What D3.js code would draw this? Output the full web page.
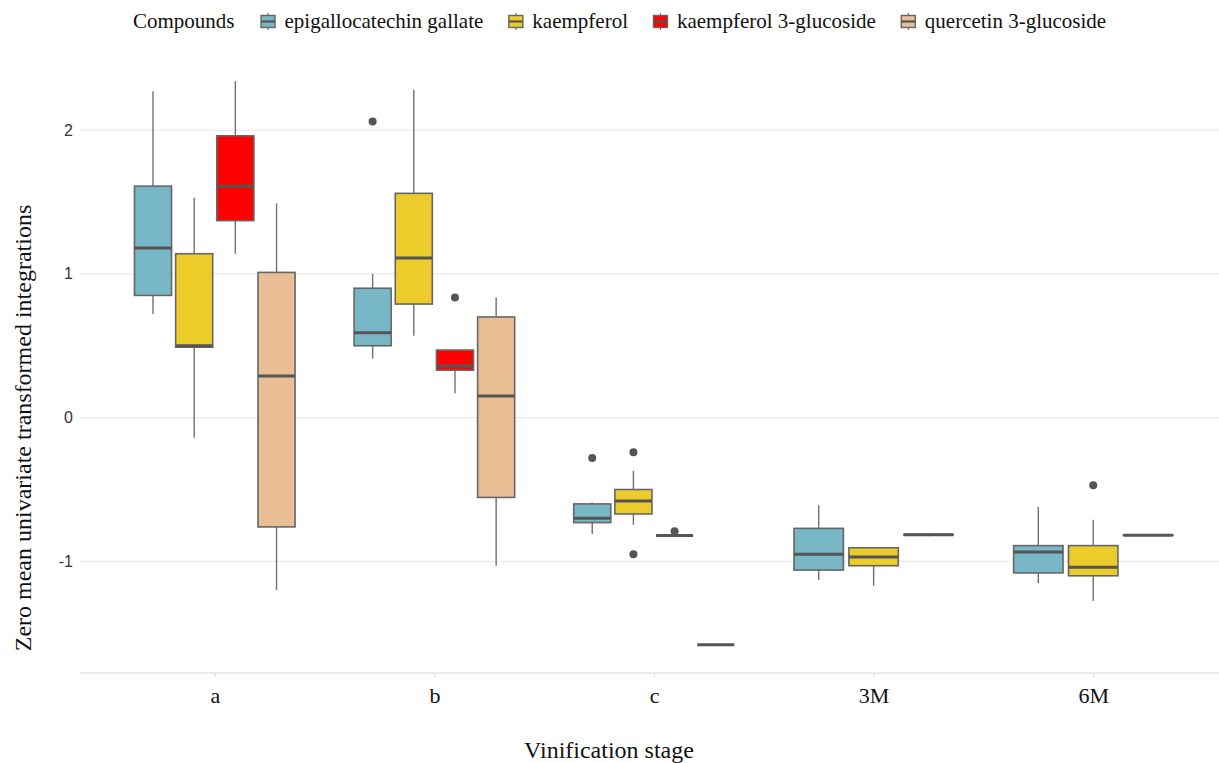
<!DOCTYPE html>
<html>
<head>
<meta charset="utf-8">
<script src="https://cdn.jsdelivr.net/npm/d3@7"></script>
<style>
  html, body { margin: 0; padding: 0; background: #fff; }
  svg { display: block; }
</style>
</head>
<body>
<svg id="chart" width="1219" height="763"></svg>
<script>
// Vinification stages on the x axis
const stages = ["a", "b", "c", "3M", "6M"];

// Compounds and their fill colours
const compounds = ["epigallocatechin gallate", "kaempferol", "kaempferol 3-glucoside", "quercetin 3-glucoside"];
const compoundColors = ["#78B7C5", "#EBCC2A", "#FF0000", "#E9BE94"];

// Box statistics per stage: [lower whisker, Q1, median, Q3, upper whisker]; null = not measured
const egcgStats = [
  [0.72, 0.85, 1.18, 1.61, 2.27],
  [0.41, 0.50, 0.59, 0.90, 1.00],
  [-0.81, -0.73, -0.70, -0.60, -0.59],
  [-1.13, -1.06, -0.95, -0.77, -0.61],
  [-1.15, -1.08, -0.935, -0.89, -0.62]
];
const kaempferolStats = [
  [-0.14, 0.49, 0.50, 1.14, 1.53],
  [0.57, 0.79, 1.11, 1.56, 2.28],
  [-0.745, -0.67, -0.58, -0.50, -0.37],
  [-1.17, -1.03, -0.97, -0.905, -0.90],
  [-1.275, -1.10, -1.04, -0.89, -0.71]
];
const kaempferol3gStats = [
  [1.14, 1.37, 1.61, 1.96, 2.34],
  [0.17, 0.33, 0.36, 0.47, 0.47],
  [-0.82, -0.82, -0.82, -0.82, -0.82],
  [-0.825, -0.815, -0.815, -0.812, -0.805],
  [-0.825, -0.818, -0.818, -0.815, -0.81]
];
const quercetin3gStats = [
  [-1.20, -0.76, 0.29, 1.01, 1.49],
  [-1.03, -0.555, 0.15, 0.70, 0.835],
  [-1.58, -1.58, -1.58, -1.58, -1.58],
  null,
  null
];

// Outlying observations per stage
const egcgOutliers = [[], [2.06], [-0.28], [], []];
const kaempferolOutliers = [[], [], [-0.24, -0.95], [], [-0.47]];
const kaempferol3gOutliers = [[], [0.835], [-0.79], [], []];
const quercetin3gOutliers = [[], [], [], [], []];

const yTicks = [-1, 0, 1, 2];

const statsByCompound = [egcgStats, kaempferolStats, kaempferol3gStats, quercetin3gStats];
const outliersByCompound = [egcgOutliers, kaempferolOutliers, kaempferol3gOutliers, quercetin3gOutliers];

// Flatten into one record per box
const boxes = [];
stages.forEach((stage, si) => {
  const present = compounds
    .map((c, ci) => ({ c, ci }))
    .filter(d => statsByCompound[d.ci][si] !== null);
  present.forEach((d, k) => {
    const s = statsByCompound[d.ci][si];
    boxes.push({
      stage, compound: d.c, ci: d.ci, slot: k, nSlots: present.length,
      lo: s[0], q1: s[1], med: s[2], q3: s[3], hi: s[4],
      outliers: outliersByCompound[d.ci][si]
    });
  });
});

const svg = d3.select("#chart");
const W = 1219, H = 763;
const panel = { left: 83, right: 1225, top: 53, bottom: 673 };

// y domain from the data with 5% expansion
const allVals = boxes.flatMap(b => [b.lo, b.hi, ...b.outliers]);
const yMin = d3.min(allVals), yMax = d3.max(allVals);
const pad = (yMax - yMin) * 0.05;
const y = d3.scaleLinear().domain([yMin - pad, yMax + pad]).range([panel.bottom, panel.top]);

const x = d3.scalePoint().domain(stages).range([panel.left, panel.right]).padding(0.6);
const step = x.step();
const dodgeWidth = 0.75 * step;

const serif = "'Liberation Serif', 'Times New Roman', serif";
const sans = "'Liberation Sans', Arial, sans-serif";

// horizontal grid lines
svg.append("g")
  .selectAll("line")
  .data(yTicks)
  .join("line")
  .attr("x1", 80).attr("x2", W)
  .attr("y1", d => y(d)).attr("y2", d => y(d))
  .attr("stroke", "#ebebeb").attr("stroke-width", 1.3);

// x axis line and ticks
const xAxis = d3.axisBottom(x).tickSize(4).tickSizeOuter(0).tickPadding(10);
const gx = svg.append("g").attr("transform", `translate(0,${panel.bottom})`).call(xAxis);
gx.select(".domain").attr("stroke", "#e3e3e3").attr("stroke-width", 1.5).attr("d", `M80,0H${W}`);
gx.selectAll(".tick line").attr("stroke", "#dedede").attr("stroke-width", 1.2);
gx.selectAll(".tick text")
  .attr("font-family", serif).attr("font-size", 22).attr("fill", "#111")
  .attr("dy", null).attr("y", 30);

// y axis labels
const yAxis = d3.axisLeft(y).tickValues(yTicks).tickSize(0).tickPadding(0).tickFormat(d => String(d));
const gy = svg.append("g").attr("transform", "translate(73,0)").call(yAxis);
gy.select(".domain").remove();
gy.selectAll(".tick text")
  .attr("font-family", sans).attr("font-size", 16).attr("fill", "#333");

// boxes
const boxG = svg.append("g");
boxes.forEach(b => {
  const slotW = dodgeWidth / b.nSlots;
  const cx = x(b.stage) - dodgeWidth / 2 + slotW * (b.slot + 0.5);
  const bw = slotW * 0.9;
  const g = boxG.append("g");
  // whiskers
  g.append("line").attr("x1", cx).attr("x2", cx).attr("y1", y(b.hi)).attr("y2", y(b.q3))
    .attr("stroke", "#707070").attr("stroke-width", 1.4);
  g.append("line").attr("x1", cx).attr("x2", cx).attr("y1", y(b.q1)).attr("y2", y(b.lo))
    .attr("stroke", "#707070").attr("stroke-width", 1.4);
  // box
  g.append("rect")
    .attr("x", cx - bw / 2).attr("width", bw)
    .attr("y", y(b.q3)).attr("height", Math.max(0, y(b.q1) - y(b.q3)))
    .attr("fill", compoundColors[b.ci])
    .attr("stroke", "#666").attr("stroke-width", 1.6);
  // median
  g.append("line").attr("x1", cx - bw / 2).attr("x2", cx + bw / 2)
    .attr("y1", y(b.med)).attr("y2", y(b.med))
    .attr("stroke", "#555").attr("stroke-width", 3);
  // outliers
  g.selectAll("circle").data(b.outliers).join("circle")
    .attr("cx", cx).attr("cy", d => y(d)).attr("r", 4)
    .attr("fill", "#555");
});

// axis titles
svg.append("text")
  .attr("x", 609).attr("y", 758)
  .attr("text-anchor", "middle")
  .attr("font-family", serif).attr("font-size", 24).attr("fill", "#111")
  .text("Vinification stage");

svg.append("text")
  .attr("transform", "translate(31,428) rotate(-90)")
  .attr("text-anchor", "middle")
  .attr("font-family", serif).attr("font-size", 24).attr("fill", "#111")
  .text("Zero mean univariate transformed integrations");

// legend
const legend = svg.append("g");
let lx = 133;
const ly = 28;
const title = legend.append("text").attr("x", lx).attr("y", ly)
  .attr("font-family", serif).attr("font-size", 21).attr("fill", "#111")
  .text("Compounds");
lx += title.node().getComputedTextLength() + 25;
compounds.forEach((c, i) => {
  const kx = lx, ky = 13, ks = 17;
  const key = legend.append("g");
  key.append("line").attr("x1", kx + ks / 2).attr("x2", kx + ks / 2).attr("y1", ky).attr("y2", ky + ks)
    .attr("stroke", "#707070").attr("stroke-width", 1.2);
  key.append("rect").attr("x", kx + 1.5).attr("y", ky + 2.5).attr("width", ks - 3).attr("height", ks - 5)
    .attr("fill", compoundColors[i]).attr("stroke", "#666").attr("stroke-width", 1.4);
  key.append("line").attr("x1", kx + 1.5).attr("x2", kx + ks - 1.5).attr("y1", ky + ks / 2).attr("y2", ky + ks / 2)
    .attr("stroke", "#555").attr("stroke-width", 2.2);
  const t = legend.append("text").attr("x", kx + 25).attr("y", ly)
    .attr("font-family", serif).attr("font-size", 21).attr("fill", "#111")
    .text(c);
  lx = kx + 25 + t.node().getComputedTextLength() + 24;
});
</script>
</body>
</html>
